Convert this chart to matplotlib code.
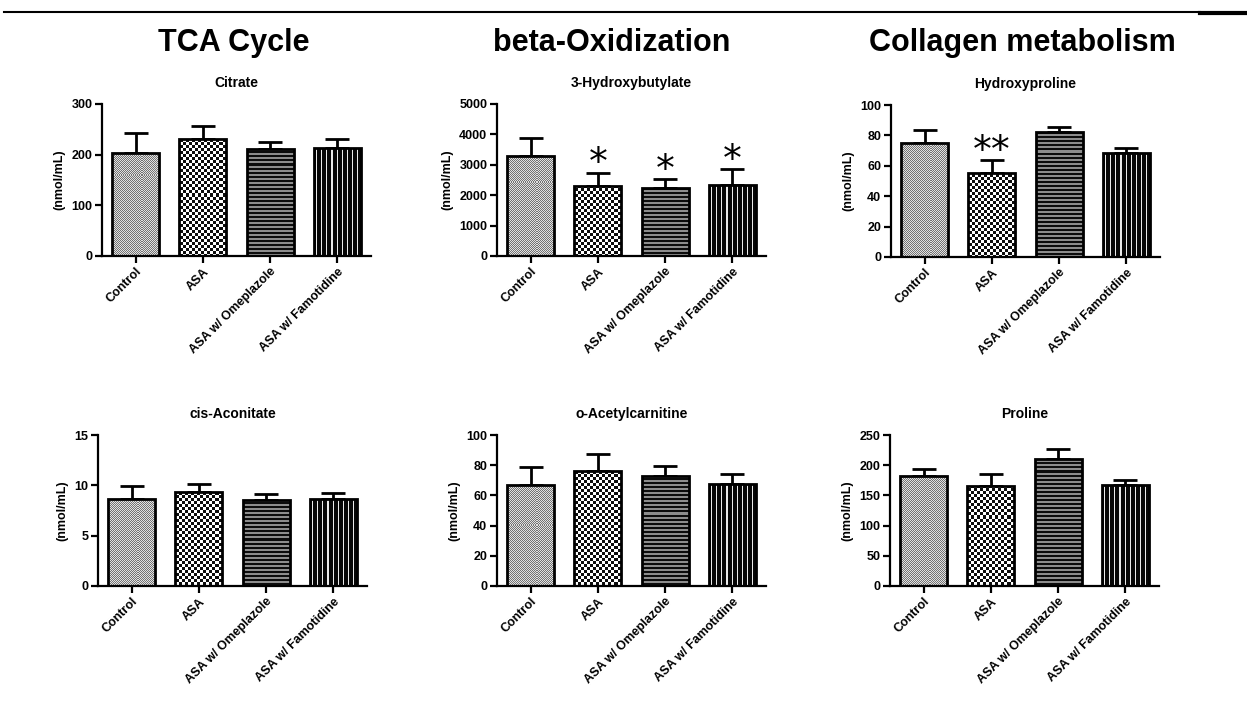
import numpy as np
import matplotlib
matplotlib.use('Agg')
import matplotlib.pyplot as plt
from matplotlib.lines import Line2D

plt.rcParams['font.family'] = ['Liberation Sans', 'DejaVu Sans']
plt.rcParams['font.weight'] = 'bold'

groups = ['Control', 'ASA', 'ASA w/ Omeplazole', 'ASA w/ Famotidine']
sections = ['TCA Cycle', 'beta-Oxidization', 'Collagen metabolism']

citrate_mean = [204, 231, 212, 214]
citrate_err = [38, 25, 13, 16]
hydroxybutylate_mean = [3300, 2300, 2225, 2335]
hydroxybutylate_err = [570, 440, 295, 525]
hydroxyproline_mean = [75, 55, 82.5, 68.5]
hydroxyproline_err = [8.5, 8.5, 3.2, 2.9]
aconitate_mean = [8.6, 9.3, 8.55, 8.6]
aconitate_err = [1.35, 0.8, 0.55, 0.65]
acetylcarnitine_mean = [67, 76, 73, 67.5]
acetylcarnitine_err = [11.5, 11.5, 6.5, 6.5]
proline_mean = [182, 166, 211, 167]
proline_err = [12, 19, 15, 9]

panels = [
    ('Citrate', citrate_mean, citrate_err, [0, 100, 200, 300], ['', '', '', '']),
    ('3-Hydroxybutylate', hydroxybutylate_mean, hydroxybutylate_err,
     [0, 1000, 2000, 3000, 4000, 5000], ['', '*', '*', '*']),
    ('Hydroxyproline', hydroxyproline_mean, hydroxyproline_err,
     [0, 20, 40, 60, 80, 100], ['', '**', '', '']),
    ('cis-Aconitate', aconitate_mean, aconitate_err, [0, 5, 10, 15], ['', '', '', '']),
    ('o-Acetylcarnitine', acetylcarnitine_mean, acetylcarnitine_err,
     [0, 20, 40, 60, 80, 100], ['', '', '', '']),
    ('Proline', proline_mean, proline_err, [0, 50, 100, 150, 200, 250], ['', '', '', '']),
]

W, H = 1247, 708
fig = plt.figure(figsize=(W / 100, H / 100), dpi=100)

# axes rectangles in pixels: left, top, right, bottom
rects = [
    (102, 104, 371, 256), (497, 104, 766, 256), (891, 105, 1160, 257),
    (98, 435, 367, 586), (497, 435, 766, 586), (890, 435, 1159, 586),
]


def texture(kind, h, w):
    i, j = np.mgrid[0:h, 0:w]
    if kind == 0:      # fine grey stipple
        t = np.where((i + j) % 2 == 0, 0.45, 0.88)
    elif kind == 1:    # black/white checkerboard
        t = np.where(((i // 3) + (j // 3)) % 2 == 0, 0.05, 1.0)
    elif kind == 2:    # horizontal stripes
        t = np.where(i % 4 < 2, 0.05, 0.55)
    else:              # vertical stripes
        t = np.where(j % 5 < 4, 0.03, 0.92)
    return t


x = np.arange(len(groups))
for (name, mean, err, yt, stars), (l, t, r, b) in zip(panels, rects):
    ax = fig.add_axes([l / W, (H - b) / H, (r - l) / W, (b - t) / H])
    ymax = yt[-1]
    hpx, wpx = b - t, r - l
    bars = ax.bar(x, mean, width=0.7, facecolor='none', edgecolor='black',
                  linewidth=2, zorder=3)
    for k, bar in enumerate(bars):
        im = ax.imshow(texture(k, hpx, wpx), extent=(-0.5, 3.5, 0, ymax),
                       aspect='auto', cmap='gray', vmin=0, vmax=1,
                       interpolation='nearest', zorder=2)
        im.set_clip_path(bar)
    ax.errorbar(x, mean, yerr=[np.zeros(len(err)), err], fmt='none',
                ecolor='black', elinewidth=2, capsize=8.5, capthick=2, zorder=1)
    for k in range(len(groups)):
        if stars[k]:
            ax.annotate(stars[k], (x[k], mean[k] + err[k]), xytext=(0, -7),
                        textcoords='offset points', ha='center', va='bottom',
                        fontsize=27, fontweight='normal', family='DejaVu Sans')
    ax.set_xlim(-0.5, 3.5)
    ax.set_ylim(0, ymax)
    ax.set_yticks(yt)
    ax.set_yticklabels([str(v) for v in yt], fontsize=9, fontweight='bold')
    ax.set_xticks(x)
    ax.set_xticklabels(groups, rotation=45, ha='right', va='top',
                       rotation_mode='anchor', fontsize=9, fontweight='bold')
    for s in ['top', 'right']:
        ax.spines[s].set_visible(False)
    for s in ['left', 'bottom']:
        ax.spines[s].set_linewidth(1.6)
    ax.tick_params(width=1.6, length=5, pad=2)
    ax.set_ylabel('(nmol/mL)', fontsize=9, fontweight='bold', labelpad=4)
    ax.set_title(name, fontsize=10, fontweight='bold', pad=12)

for txt, cx in zip(sections, [234, 612, 1022]):
    fig.text(cx / W, (H - 43) / H, txt, ha='center', va='center',
             fontsize=22, fontweight='bold')

fig.add_artist(Line2D([4 / W, 1200 / W], [(H - 12) / H] * 2, color='black', lw=1.5))
fig.add_artist(Line2D([1200 / W, 1247 / W], [(H - 13) / H] * 2, color='black', lw=3))

fig.savefig('out.png', dpi=100)
